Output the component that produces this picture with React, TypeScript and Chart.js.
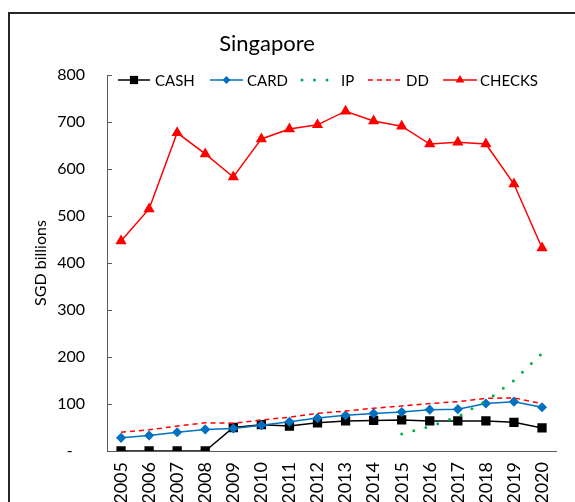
import React, { useEffect, useRef } from "react";
import { Chart, registerables } from "chart.js";

Chart.register(...registerables);

const years = ["2005","2006","2007","2008","2009","2010","2011","2012","2013","2014","2015","2016","2017","2018","2019","2020"];
const cash = [0, 0, 0, 0, 50, 56, 53, 60, 64, 65, 66, 64, 64, 64, 61, 49];
const card = [28, 33, 40, 46, 48, 55, 62, 70, 76, 80, 83, 88, 89, 101, 105, 93];
const ip = [null, null, null, null, null, null, null, null, null, null, 36, 52, 73, 106, 150, 208];
const dd = [40, 45, 53, 60, 59, 66, 72, 80, 85, 91, 96, 101, 105, 112, 113, 101];
const checks = [447, 515, 677, 632, 583, 664, 685, 694, 723, 702, 691, 653, 657, 653, 568, 432];
const yTicks = [0, 100, 200, 300, 400, 500, 600, 700, 800];

const FONT = "Lato, 'Open Sans', sans-serif";

const overlayPlugin = {
  id: "overlay",
  afterDraw(chart: any) {
    const ctx = chart.ctx;
    const ca = chart.chartArea;
    const ys = chart.scales.y;
    ctx.save();
    // inward tick marks on y axis
    ctx.strokeStyle = "#595959";
    ctx.lineWidth = 1;
    yTicks.forEach((v) => {
      const py = Math.round(ys.getPixelForValue(v)) + 0.5;
      ctx.beginPath();
      ctx.moveTo(ca.left, py);
      ctx.lineTo(ca.left + 5, py);
      ctx.stroke();
    });
    // title
    ctx.fillStyle = "#000";
    ctx.font = `22px ${FONT}`;
    ctx.textAlign = "center";
    ctx.textBaseline = "middle";
    ctx.fillText("Singapore", 257, 30);
    // legend
    const ly = 66;
    ctx.font = `15px ${FONT}`;
    ctx.textAlign = "left";
    const xs = [
      { x0: 108, x1: 140, tx: 145 },
      { x0: 200, x1: 233, tx: 237 },
      { x0: 292, x1: 320, tx: 331 },
      { x0: 358, x1: 392, tx: 396 },
      { x0: 433, x1: 467, tx: 470 },
    ];
    chart.data.datasets.forEach((ds: any, i: number) => {
      const p = xs[i];
      ctx.save();
      ctx.strokeStyle = ds.borderColor;
      ctx.lineWidth = ds.borderWidth;
      ctx.setLineDash(ds.borderDash || []);
      ctx.lineCap = ds.borderCapStyle || "butt";
      ctx.beginPath();
      ctx.moveTo(p.x0, ly);
      ctx.lineTo(p.x1, ly);
      ctx.stroke();
      ctx.restore();
      const cx = (p.x0 + p.x1) / 2;
      if (ds.pointRadius > 0) {
        ctx.fillStyle = ds.pointBackgroundColor;
        const r = ds.pointRadius;
        ctx.beginPath();
        if (ds.pointStyle === "rect") {
          ctx.rect(cx - r * 0.75, ly - r * 0.75, r * 1.5, r * 1.5);
        } else if (ds.pointStyle === "rectRot") {
          ctx.moveTo(cx, ly - r);
          ctx.lineTo(cx + r, ly);
          ctx.lineTo(cx, ly + r);
          ctx.lineTo(cx - r, ly);
          ctx.closePath();
        } else if (ds.pointStyle === "triangle") {
          ctx.moveTo(cx, ly - r);
          ctx.lineTo(cx + r * 0.87, ly + r * 0.5);
          ctx.lineTo(cx - r * 0.87, ly + r * 0.5);
          ctx.closePath();
        }
        ctx.fill();
      }
      ctx.fillStyle = "#000";
      ctx.fillText(ds.label, p.tx, ly + 1);
    });
    ctx.restore();
  },
};

export default function App() {
  const ref = useRef<HTMLCanvasElement | null>(null);
  useEffect(() => {
    if (!ref.current) return;
    const chart = new Chart(ref.current, {
      type: "line",
      data: {
        labels: years,
        datasets: [
          {
            label: "CASH",
            data: cash,
            borderColor: "#000000",
            backgroundColor: "#000000",
            pointBackgroundColor: "#000000",
            pointBorderColor: "#000000",
            borderWidth: 1.5,
            pointStyle: "rect",
            pointRadius: 5.5,
            order: 5,
          },
          {
            label: "CARD",
            data: card,
            borderColor: "#0070C0",
            backgroundColor: "#0070C0",
            pointBackgroundColor: "#0070C0",
            pointBorderColor: "#0070C0",
            borderWidth: 1.5,
            pointStyle: "rectRot",
            pointRadius: 4,
            order: 4,
          },
          {
            label: "IP",
            data: ip,
            borderColor: "#00B050",
            backgroundColor: "#00B050",
            pointBackgroundColor: "#00B050",
            borderWidth: 3,
            borderDash: [0, 12.5],
            borderCapStyle: "round",
            pointRadius: 0,
            order: 3,
          },
          {
            label: "DD",
            data: dd,
            borderColor: "#FF0000",
            backgroundColor: "#FF0000",
            pointBackgroundColor: "#FF0000",
            borderWidth: 1.5,
            borderDash: [5, 4],
            pointRadius: 0,
            order: 2,
          },
          {
            label: "CHECKS",
            data: checks,
            borderColor: "#FF0000",
            backgroundColor: "#FF0000",
            pointBackgroundColor: "#FF0000",
            pointBorderColor: "#FF0000",
            borderWidth: 1.5,
            pointStyle: "triangle",
            pointRadius: 5,
            order: 1,
          },
        ] as any,
      },
      options: {
        animation: false,
        responsive: false,
        layout: { padding: { top: 61, right: 12, bottom: 0, left: 0 } },
        plugins: {
          legend: { display: false },
          title: { display: false },
          tooltip: { enabled: false },
        },
        scales: {
          x: {
            offset: true,
            grid: { display: false, drawTicks: false },
            border: { display: true, color: "#595959", width: 1 },
            ticks: {
              color: "#000",
              font: { family: FONT, size: 18 },
              maxRotation: 90,
              minRotation: 90,
              padding: 11,
              autoSkip: false,
            },
            afterFit: (s: any) => {
              s.height = 51;
            },
          },
          y: {
            min: 0,
            max: 800,
            grid: { display: false, drawTicks: false },
            border: { display: true, color: "#595959", width: 1 },
            ticks: {
              stepSize: 100,
              color: "#000",
              font: { family: FONT, size: 16 },
              padding: 22,
              callback: (v: any) => (v === 0 ? "-   " : String(v)),
            },
            title: {
              display: true,
              text: "SGD billions",
              color: "#000",
              font: { family: FONT, size: 16 },
              padding: { top: 21, bottom: 0 },
            },
            afterFit: (s: any) => {
              s.width = 97;
            },
          },
        },
      },
      plugins: [overlayPlugin],
    } as any);
    return () => chart.destroy();
  }, []);
  return (
    <div
      style={{
        position: "fixed",
        left: 8,
        top: 12,
        width: 567,
        height: 490,
        borderLeft: "2px solid #262626",
        borderTop: "2px solid #262626",
        background: "#fff",
        overflow: "hidden",
      }}
    >
      <canvas ref={ref} width={565} height={488} style={{ display: "block" }} />
    </div>
  );
}
